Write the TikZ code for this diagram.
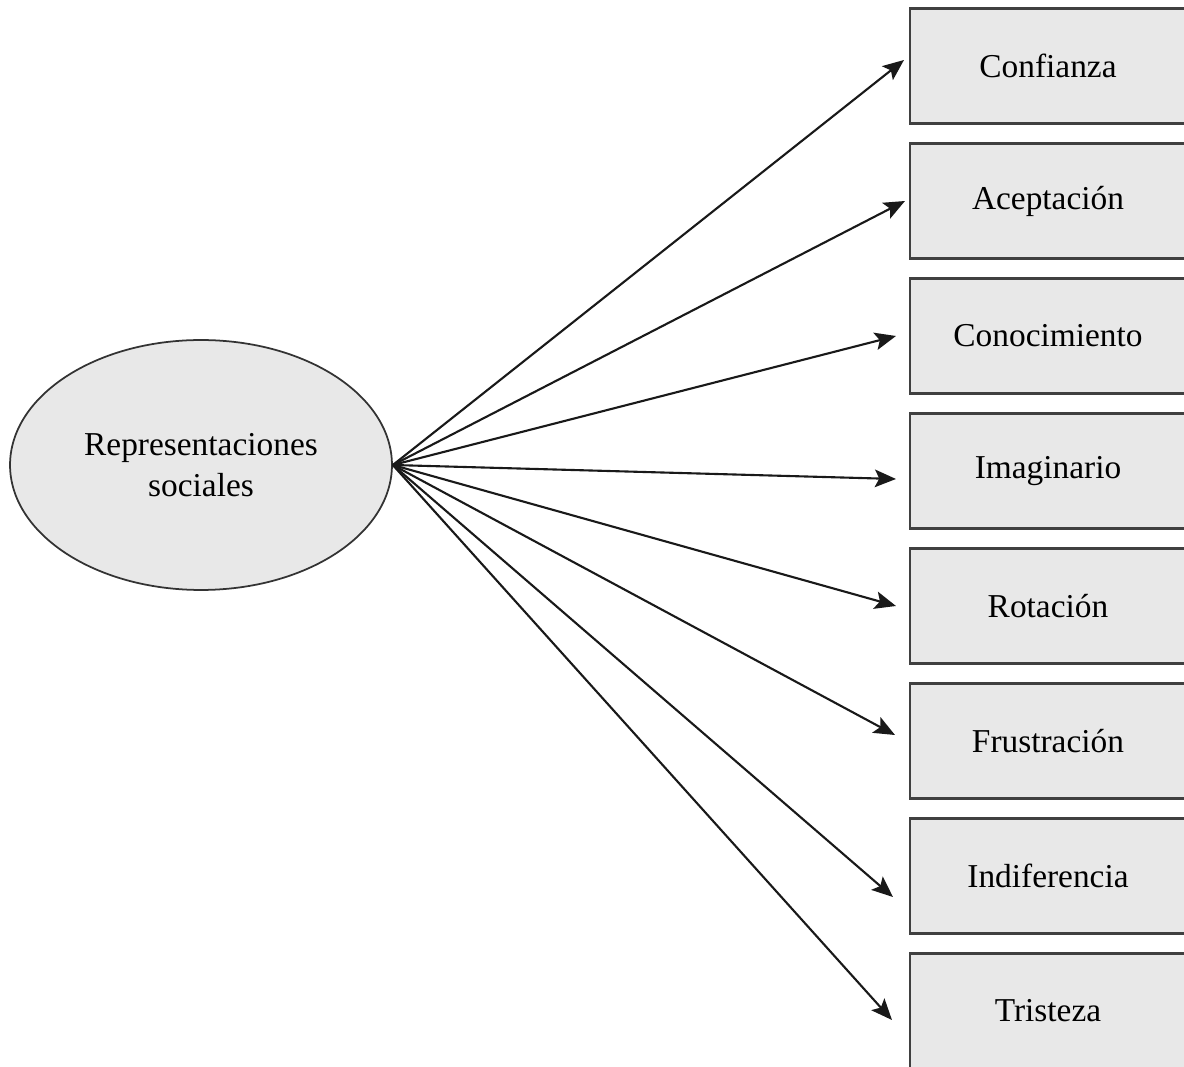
\documentclass[tikz,border=0pt]{standalone}
\usepackage{fontspec}
\setmainfont{Liberation Serif}
\usetikzlibrary{arrows.meta,shapes.geometric}

\begin{document}
\begin{tikzpicture}[
    x=0.02cm, y=-0.02cm,
    emobox/.style={rectangle, draw=black!75, line width=1.2pt, fill=black!9,
        minimum width=5.52cm, minimum height=2.3cm, inner sep=0pt,
        font=\fontsize{19}{23}\selectfont},
    mainnode/.style={ellipse, draw=black!80, line width=1pt, fill=black!9,
        minimum width=7.64cm, minimum height=5cm, inner sep=0pt, align=center,
        font=\fontsize{19}{23.2}\selectfont},
    arrow/.style={-{Stealth[length=12pt,width=10pt,inset=2.5pt]}, line width=1.2pt, black!90}
]
\useasboundingbox (0,0) rectangle (1184,1067);
\clip (0,0) rectangle (1184,1067);

% central concept
\node[mainnode] (rs) at (201,465) {Representaciones\\sociales};

% boxes
\node[emobox] (b1) at (1048,66) {Confianza};
\node[emobox] (b2) at (1048,201) {Aceptación};
\node[emobox] (b3) at (1048,336) {Conocimiento};
\node[emobox] (b4) at (1048,471) {Imaginario};
\node[emobox] (b5) at (1048,606) {Rotación};
\node[emobox] (b6) at (1048,741) {Frustración};
\node[emobox] (b7) at (1048,876) {Indiferencia};
\node[emobox] (b8) at (1048,1011) {Tristeza};

% arrows
\draw[arrow] (rs.east) -- ([xshift=-0.10cm,yshift=0.12cm]b1.west);
\draw[arrow] (rs.east) -- ([xshift=-0.08cm]b2.west);
\draw[arrow] (rs.east) -- ([xshift=-0.26cm]b3.west);
\draw[arrow] (rs.east) -- ([xshift=-0.26cm,yshift=-0.16cm]b4.west);
\draw[arrow] (rs.east) -- ([xshift=-0.26cm]b5.west);
\draw[arrow] (rs.east) -- ([xshift=-0.28cm,yshift=0.12cm]b6.west);
\draw[arrow] (rs.east) -- ([xshift=-0.32cm,yshift=-0.42cm]b7.west);
\draw[arrow] (rs.east) -- ([xshift=-0.34cm,yshift=-0.18cm]b8.west);

\end{tikzpicture}
\end{document}
